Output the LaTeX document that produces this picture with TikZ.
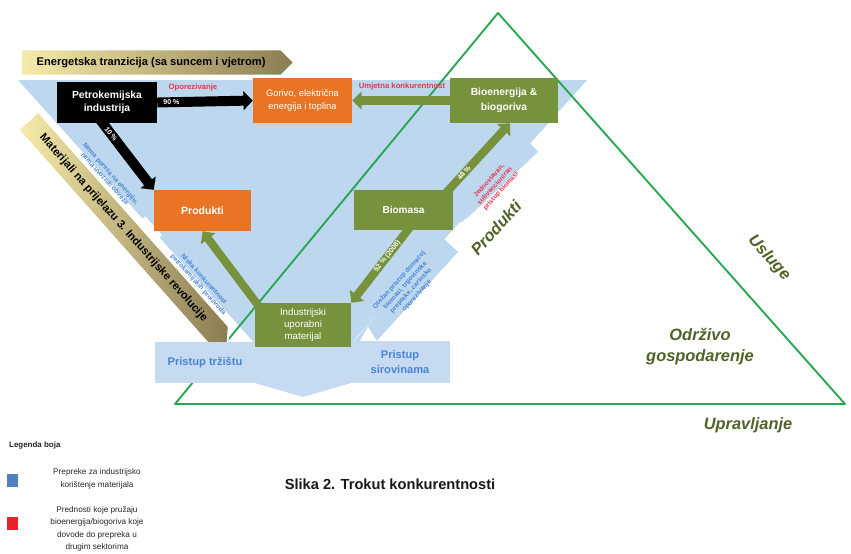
\documentclass[tikz,border=0pt]{standalone}
\usepackage{fontspec}
\setmainfont{Liberation Sans}
\usetikzlibrary{arrows.meta, calc, shapes.symbols}

\definecolor{bgblue}{RGB}{189,215,238}
\definecolor{lightblue}{RGB}{198,218,241}
\definecolor{boxorange}{RGB}{232,116,36}
\definecolor{boxgreen}{RGB}{118,146,60}
\definecolor{txtblue}{RGB}{72,132,214}
\definecolor{txtred}{RGB}{236,52,72}
\definecolor{linegreen}{RGB}{38,168,82}
\definecolor{darkolive}{RGB}{79,98,40}
\definecolor{banyellow}{RGB}{246,236,170}
\definecolor{banbrown}{RGB}{138,124,82}
\definecolor{legblue}{RGB}{79,129,189}
\definecolor{legred}{RGB}{232,35,43}

\tikzset{
  box/.style={inner sep=1pt, align=center, text=white},
  banner/.style={signal, signal to=east, signal pointer angle=90,
    left color=banyellow, right color=banbrown, draw=white, line width=1.5pt,
    inner sep=2pt, font=\fontsize{9.5}{11}\selectfont\bfseries},
  blackarrow/.style={draw=black, line width=8.5pt, -{Triangle[length=8pt,width=16pt]}},
  greenarrow/.style={draw=boxgreen, line width=7pt, -{Triangle[length=8pt,width=15pt]}},
  pct/.style={text=white, inner sep=1pt, font=\fontsize{6}{7}\selectfont\bfseries},
  bluenote/.style={text=txtblue, align=center, font=\fontsize{5.6}{6.7}\selectfont\bfseries},
  rednote/.style={text=txtred, align=center, font=\fontsize{5.6}{6.7}\selectfont\bfseries},
  pristup/.style={fill=lightblue, text=txtblue, align=center,
    font=\fontsize{9.5}{13.5}\selectfont\bfseries},
  bigword/.style={text=darkolive, align=center, font=\fontsize{14}{18}\selectfont\bfseries\itshape},
  legend/.style={align=center, text=black!85, font=\fontsize{7}{10.5}\selectfont}
}

\begin{document}
\begin{tikzpicture}[x=0.03cm, y=-0.03cm]
\useasboundingbox (0,0) rectangle (851,553);

% blue background
\fill[bgblue] (18,80) -- (587,80) -- (303,397) -- cycle;
\fill[bgblue] (587,80) -- (530,143) -- (538,152) -- (463,222) -- (455,222) -- cycle;
\fill[bgblue] (443,238) -- (458,252) -- (372,346) -- (350,346) -- cycle;
\node (notchl) [fill=white, minimum width=0.75cm, minimum height=0.3cm, rotate=-48] at (150,229) {};
\node (notchr) [fill=white, minimum width=0.75cm, minimum height=0.3cm, rotate=48] at (461,231) {};
\fill[white] (222,341) -- (228,328) -- (234,341) -- cycle;
\fill[white] (360,341) -- (368,327) -- (377,341) -- cycle;
\fill[lightblue] (255,346) -- (351,346) -- (351,383) -- (303,397) -- (255,383) -- cycle;

% green triangle
\draw[linegreen, line width=1.6pt, line join=round] (498,13) -- (175,404) -- (845,404) -- cycle;

% banners
\node (energ) [banner, anchor=west, minimum width=8.2cm, minimum height=0.78cm] at (20,62.5)
  {Energetska tranzicija (sa suncem i vjetrom)};
\node (mater) [banner, rotate=-48.4, minimum width=9cm, minimum height=0.8cm] at (123.5,228)
  {Materijali na prijelazu 3. Industrijske revolucije};

% boxes
\node (petro) [box, fill=black, minimum width=3cm, minimum height=1.23cm,
  font=\fontsize{8.8}{11}\selectfont\bfseries] at (107,102.5) {Petrokemijska\\industrija};
\node (gorivo) [box, fill=boxorange, minimum width=2.97cm, minimum height=1.35cm,
  font=\fontsize{8}{11}\selectfont] at (302.5,100.5) {Gorivo, električna\\energija i toplina};
\node (bioen) [box, fill=boxgreen, minimum width=3.24cm, minimum height=1.35cm,
  font=\fontsize{8.8}{12.5}\selectfont\bfseries] at (504,100.5) {Bioenergija \&\\biogoriva};
\node (produkti) [box, fill=boxorange, minimum width=2.91cm, minimum height=1.23cm,
  font=\fontsize{9}{11}\selectfont\bfseries] at (202.5,210.5) {Produkti};
\node (biomasa) [box, fill=boxgreen, minimum width=2.97cm, minimum height=1.2cm,
  font=\fontsize{8.6}{11}\selectfont\bfseries] at (403.5,210) {Biomasa};
\node (trziste) [pristup, minimum width=3cm, minimum height=1.23cm] at (205,362.5) {Pristup tržištu};
\node (sirovine) [pristup, minimum width=3cm, minimum height=1.26cm] at (400,362) {Pristup\\sirovinama};
\node (ind) [box, fill=boxgreen, minimum width=2.88cm, minimum height=1.32cm,
  font=\fontsize{8.3}{10.2}\selectfont] at (303,325) {Industrijski\\uporabni\\materijal};

% arrows
\draw[blackarrow] (petro.east) -- (gorivo.west)
  node[pct, pos=0, anchor=west] {90 \%};
\draw[blackarrow] ($(petro.south west)!0.42!(petro.south east)+(0,-5)$) -- (produkti.north west)
  node[pct, pos=0.22, sloped] {10 \%};
\draw[greenarrow] (bioen.west) -- (gorivo.east);
\draw[greenarrow] ($(biomasa.north east)+(-9,5)$) -- ($(bioen.south)+(6,0)$)
  node[pct, pos=0.3, sloped] {48 \%};
\draw[greenarrow] ($(biomasa.south)+(8,-5)$) -- (ind.north east)
  node[pct, pos=0.4, sloped] {52 \% (2008)};
\draw[greenarrow] ($(ind.north west)+(6,6)$) -- (produkti.south);

% labels
\node (opor) [rednote, font=\fontsize{6.6}{8}\selectfont\bfseries] at (193,87) {Oporezivanje};
\node (umjet) [rednote, font=\fontsize{6.6}{8}\selectfont\bfseries] at (402,86) {Umjetna konkurentnost};
\node (nema) [bluenote, rotate=-48] at (108,176) {Nema poreza na energiju,\\nema uvoznih obveza};
\node (niska) [bluenote, rotate=-48] at (201,282) {Niska konkurentnost\\petrokemijskih proizvoda};
\node (jedno) [rednote, rotate=48] at (495,186) {Jednostavan,\\subvencioniran\\pristup biomasi};
\node (otezan) [bluenote, rotate=48] at (408,288) {Otežan pristup domaćoj\\biomasi, trgovinske\\prepreke, carinsko\\oporezivanje};

\node (prodlbl) [bigword, rotate=48] at (496,228) {Produkti};
\node (usluge) [bigword, rotate=-48] at (769,258) {Usluge};
\node (odrz) [bigword] at (700,347) {Održivo\\gospodarenje};
\node (uprav) [bigword] at (748,425) {Upravljanje};

% legend
\node (legtitle) [anchor=west, text=black!85, font=\fontsize{6.8}{8}\selectfont\bfseries] at (5,445) {Legenda boja};
\node (sqblue) [fill=legblue, minimum width=0.33cm, minimum height=0.39cm, inner sep=0pt] at (12.5,480) {};
\node (legone) [legend] at (97,479) {Prepreke za industrijsko\\korištenje materijala};
\node (sqred) [fill=legred, minimum width=0.33cm, minimum height=0.39cm, inner sep=0pt] at (12.5,523) {};
\node (legtwo) [legend] at (97,529) {Prednosti koje pružaju\\bioenergija/biogoriva koje\\dovode do prepreka u\\drugim sektorima};

\node (caption) [text=black!90, font=\fontsize{12.5}{15}\selectfont\bfseries] at (390,484) {Slika 2. Trokut konkurentnosti};
\end{tikzpicture}
\end{document}
